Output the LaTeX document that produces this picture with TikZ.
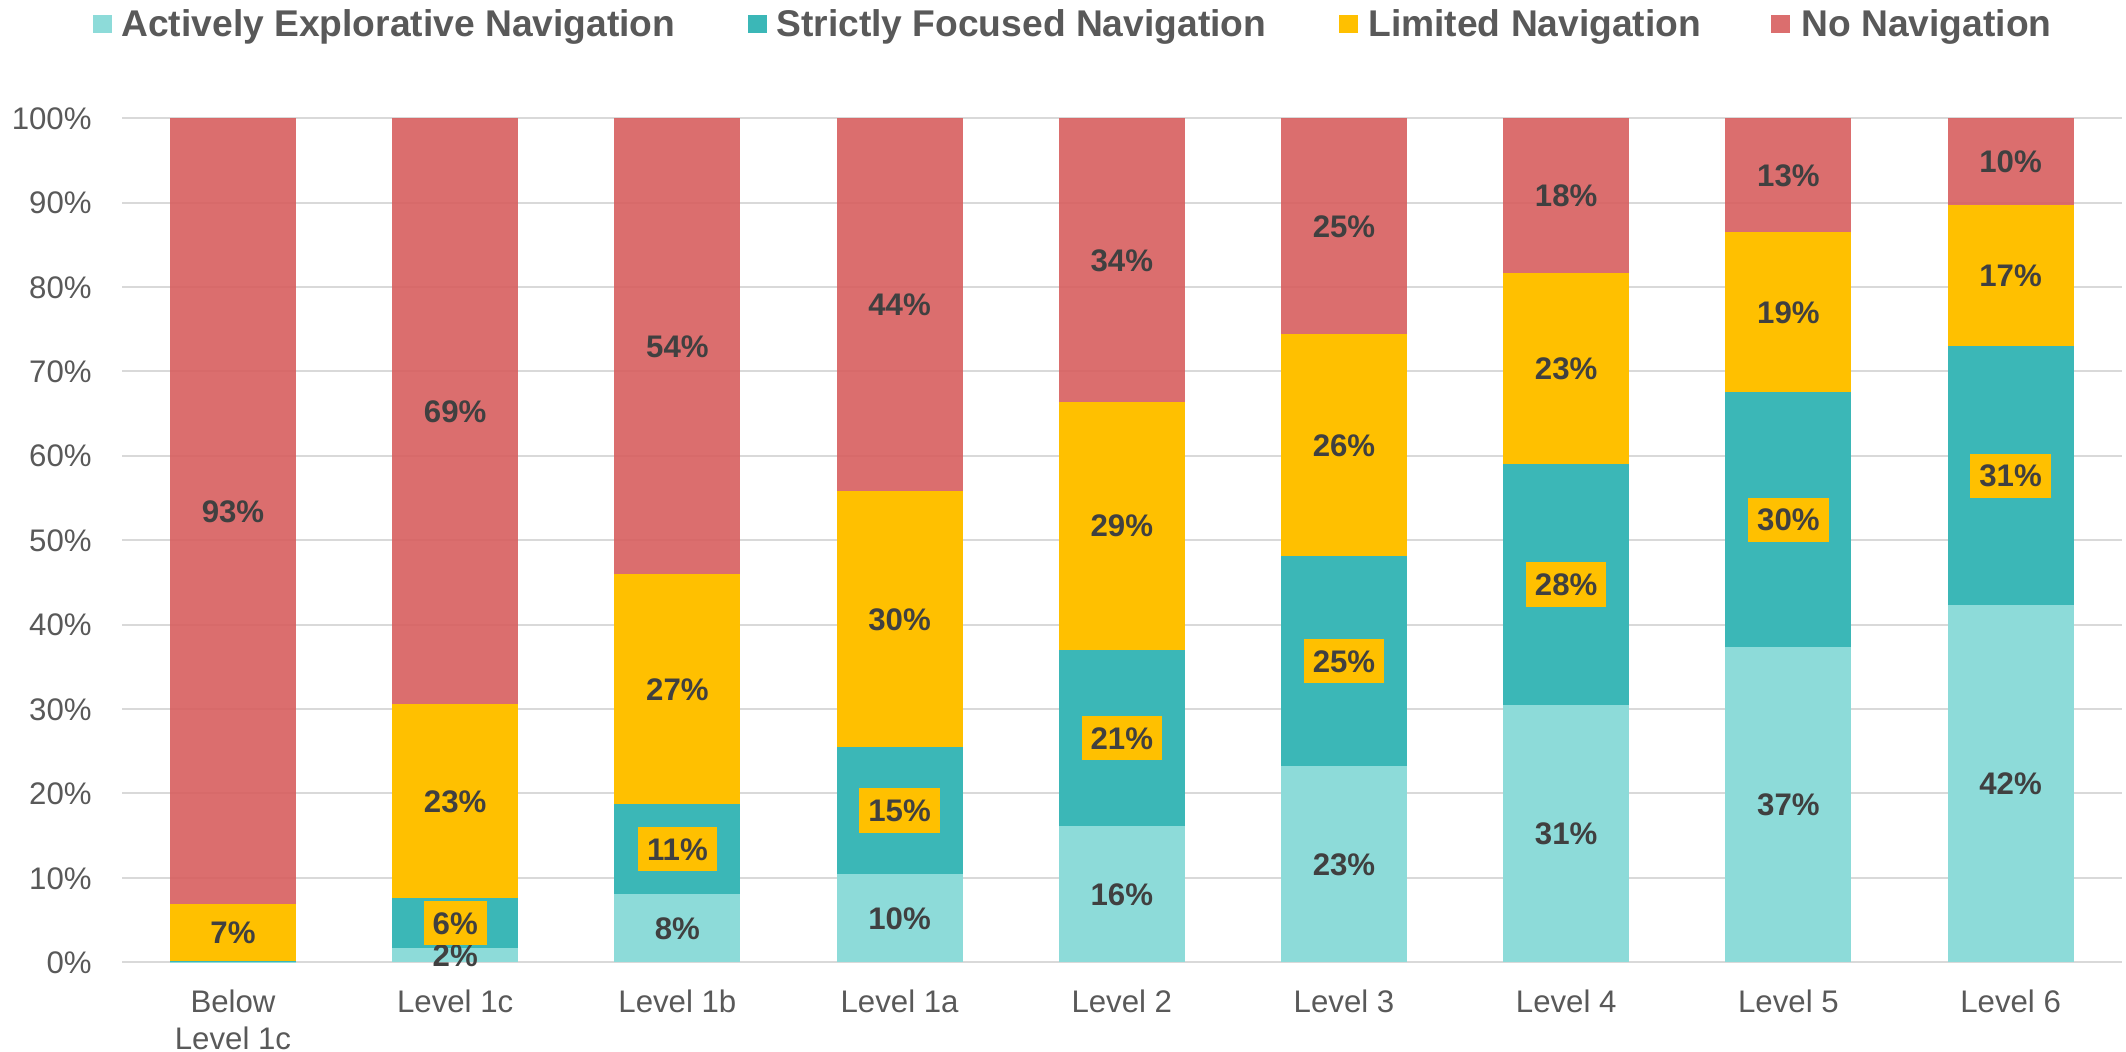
\documentclass[tikz,border=0pt]{standalone}
\usepackage{fontspec}
\setmainfont{Liberation Sans}
\definecolor{ae}{HTML}{8DDBD9}
\definecolor{sf}{HTML}{3BB7B7}
\definecolor{lim}{HTML}{FFC000}
\definecolor{nonav}{RGB}{215,94,94}
\definecolor{gridc}{HTML}{D9D9D9}
\definecolor{axtext}{HTML}{595959}
\definecolor{labtext}{HTML}{404040}
\begin{document}
\begin{tikzpicture}[x=0.5pt,y=-0.5pt,
  gridline/.style={draw=gridc,line width=1pt},
  ticklab/.style={anchor=east,inner sep=0pt,text=axtext,font=\fontsize{15.6}{18.7}\selectfont,text height=11.1pt,text depth=0pt},
  catlab/.style={anchor=north,inner sep=0pt,text=axtext,align=center,font=\fontsize{15.6}{18.7}\selectfont},
  dlab/.style={inner xsep=4.5pt,inner ysep=5.6pt,text=labtext,font=\bfseries\fontsize{15.6}{18.7}\selectfont,text height=11.1pt,text depth=0pt},
  boxlab/.style={dlab,fill=lim},
  legsq/.style={minimum width=9.5pt,minimum height=9pt,inner sep=0pt},
  legtext/.style={anchor=base west,inner sep=0pt,text=axtext,font=\bfseries\fontsize{18.6}{22}\selectfont},
  redbar/.style={fill=nonav,fill opacity=0.9}
]
\useasboundingbox (0,0) rectangle (2126,1052);
% gridlines and tick labels
\foreach \k/\t in {0/0,1/10,2/20,3/30,4/40,5/50,6/60,7/70,8/80,9/90,10/100}{
  \draw[gridline] (122,{962.3-84.4*\k}) -- (2122,{962.3-84.4*\k});
  \node[ticklab] (tick\k) at (92,{962.3-84.4*\k}) {\t\%};
}
% bars
\foreach \i/\a/\b/\c in {1/0.05/0.2/6.93,2/1.7/7.6/30.6,3/8.1/18.75/46.0,4/10.44/25.5/55.85,5/16.1/37.03/66.4,6/23.27/48.1/74.4,7/30.5/59.0/81.7,8/37.3/67.55/86.5,9/42.3/72.97/89.74}{
  \pgfmathsetmacro\cx{233+222.2*(\i-1)}
  \fill[ae] ({\cx-63},962.3) rectangle ({\cx+63},{962.3-8.44*\a});
  \fill[sf] ({\cx-63},{962.3-8.44*\a}) rectangle ({\cx+63},{962.3-8.44*\b});
  \fill[lim] ({\cx-63},{962.3-8.44*\b}) rectangle ({\cx+63},{962.3-8.44*\c});
  \fill[redbar] ({\cx-63},{962.3-8.44*\c}) rectangle ({\cx+63},118.3);
}
% data labels, first bar
\node[dlab] (li1) at (233,{962.3-8.44*(0.2+6.93)/2}) {7\%};
\node[dlab] (no1) at (233,{962.3-8.44*(6.93+100)/2}) {93\%};
% data labels, other bars
\foreach \i/\a/\b/\c/\la/\lb/\lc/\ld in {2/1.7/7.6/30.6/2/6/23/69,3/8.1/18.75/46.0/8/11/27/54,4/10.44/25.5/55.85/10/15/30/44,5/16.1/37.03/66.4/16/21/29/34,6/23.27/48.1/74.4/23/25/26/25,7/30.5/59.0/81.7/31/28/23/18,8/37.3/67.55/86.5/37/30/19/13,9/42.3/72.97/89.74/42/31/17/10}{
  \pgfmathsetmacro\cx{233+222.2*(\i-1)}
  \node[dlab] (ae\i) at (\cx,{962.3-8.44*\a/2}) {\la\%};
  \node[boxlab] (sf\i) at (\cx,{962.3-8.44*(\a+\b)/2}) {\lb\%};
  \node[dlab] (li\i) at (\cx,{962.3-8.44*(\b+\c)/2}) {\lc\%};
  \node[dlab] (no\i) at (\cx,{962.3-8.44*(\c+100)/2}) {\ld\%};
}
% category labels
\node[catlab] (cat1) at (233,989) {Below\\Level 1c};
\foreach \i/\t in {2/Level 1c,3/Level 1b,4/Level 1a,5/Level 2,6/Level 3,7/Level 4,8/Level 5,9/Level 6}{
  \pgfmathsetmacro\cx{233+222.2*(\i-1)}
  \node[catlab] (cat\i) at (\cx,989) {\t};
}
% legend
\node[legsq,fill=ae] (lq1) at (102.5,24) {};
\node[legtext] (lt1) at (121,36.5) {Actively Explorative Navigation};
\node[legsq,fill=sf] (lq2) at (757.5,24) {};
\node[legtext] (lt2) at (776,36.5) {Strictly Focused Navigation};
\node[legsq,fill=lim] (lq3) at (1348.5,24) {};
\node[legtext] (lt3) at (1368,36.5) {Limited Navigation};
\node[legsq,redbar] (lq4) at (1780.5,24) {};
\node[legtext] (lt4) at (1801,36.5) {No Navigation};
\end{tikzpicture}
\end{document}
